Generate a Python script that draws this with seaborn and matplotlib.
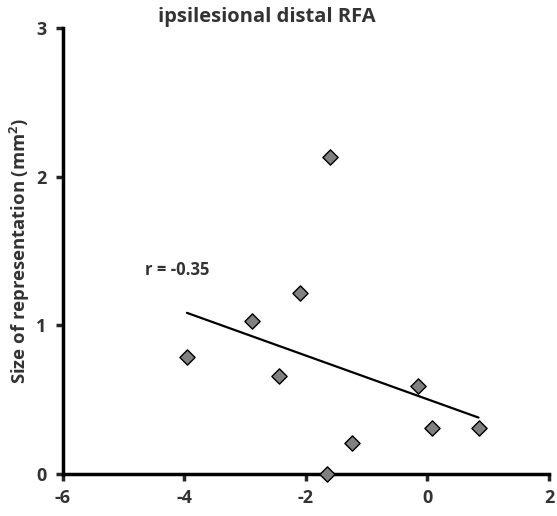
import pandas as pd
import matplotlib.pyplot as plt
import seaborn as sns

# values
x_values = [-3.96, -2.89, -2.10, -2.44, -0.16, 0.08, 0.84, -1.25, -1.65, -1.61]
y_values = [0.79, 1.03, 1.22, 0.66, 0.59, 0.31, 0.31, 0.21, 0.00, 2.13]
x_ticks = [-6, -4, -2, 0, 2]
y_ticks = [0, 1, 2, 3]
title = "ipsilesional distal RFA"
y_label = "Size of representation (mm$^\\mathregular{2}$)"
r_label = "r = -0.35"

sns.set_style("ticks")
plt.rcParams['font.family'] = ['Open Sans', 'DejaVu Sans']
plt.rcParams['font.weight'] = 'bold'
plt.rcParams['mathtext.default'] = 'regular'
plt.rcParams['axes.unicode_minus'] = False

df = pd.DataFrame({"x": x_values, "y": y_values})

fig = plt.figure(figsize=(5.57, 5.16), dpi=100)
ax = fig.add_axes([0.1131, 0.0814, 0.8725, 0.8643])

sns.regplot(data=df, x="x", y="y", ax=ax, ci=None, marker="D",
            scatter_kws={"s": 60, "color": "#808080", "edgecolor": "black",
                         "linewidths": 1.0, "alpha": 1, "zorder": 3},
            line_kws={"color": "black", "linewidth": 1.6, "zorder": 2})

ax.set_xlim(-6, 2)
ax.set_ylim(0, 3)
ax.set_xticks(x_ticks)
ax.set_yticks(y_ticks)
ax.set_xlabel("")
ax.set_ylabel(y_label, fontsize=13.3, fontweight='bold', color='#333333', labelpad=3)
ax.set_title(title, fontsize=14.5, fontweight='bold', color='#333333', pad=4, x=0.42)

for side in ["left", "bottom"]:
    ax.spines[side].set_linewidth(2.5)
    ax.spines[side].set_color("black")
sns.despine(ax=ax)
ax.tick_params(axis='both', direction='out', length=5, width=2.5, labelsize=13,
               labelcolor='#333333')
ax.tick_params(axis='x', pad=6)
ax.tick_params(axis='y', pad=7)
for lbl in ax.get_xticklabels() + ax.get_yticklabels():
    lbl.set_fontweight('bold')
for spine in ax.spines.values():
    spine.set_clip_on(False)
ax.collections[0].set_clip_on(False)

ax.text(-4.65, 1.37, r_label, fontsize=12, fontweight='bold', color='#333333',
        va='center', ha='left')

plt.savefig("out.png", dpi=100)
